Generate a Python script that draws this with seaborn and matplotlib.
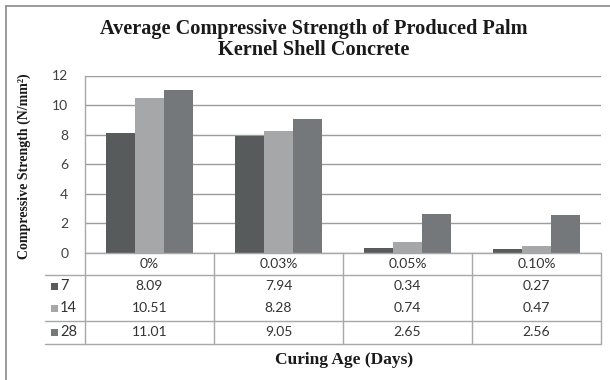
import matplotlib
matplotlib.use("Agg")
import matplotlib.pyplot as plt
import matplotlib.transforms as mtransforms
from matplotlib.lines import Line2D
from matplotlib.patches import Rectangle
import pandas as pd
import seaborn as sns

# Palm kernel shell content (x categories) and curing ages (series)
contents = ["0%", "0.03%", "0.05%", "0.10%"]
ages = ["7", "14", "28"]
strength_7 = [8.09, 7.94, 0.34, 0.27]
strength_14 = [10.51, 8.28, 0.74, 0.47]
strength_28 = [11.01, 9.05, 2.65, 2.56]
y_ticks = [0, 2, 4, 6, 8, 10, 12]

title = "Average Compressive Strength of Produced Palm\nKernel Shell Concrete"
y_label = "Compressive Strength (N/mm²)"
x_label = "Curing Age (Days)"

series = {"7": strength_7, "14": strength_14, "28": strength_28}
colors = {"7": "#585b5c", "14": "#a5a7a8", "28": "#75787a"}

df = pd.DataFrame(
    [(c, a, series[a][i]) for a in ages for i, c in enumerate(contents)],
    columns=["Content", "Age", "Strength"],
)

sns.set_style("white")
plt.rcParams["font.family"] = ["Lato", "DejaVu Sans"]
SERIF = ["Liberation Serif", "DejaVu Serif"]

W, H = 610, 380
fig = plt.figure(figsize=(W / 100, H / 100), dpi=100)


def fx(px):
    return px / W


def fy(py):
    return 1 - py / H


# plot area in pixel terms
L, R, T, B = 85, 601, 75.5, 253
ax = fig.add_axes([fx(L), fy(B), fx(R) - fx(L), fy(T) - fy(B)])

sns.barplot(
    data=df, x="Content", y="Strength", hue="Age", order=contents,
    hue_order=ages, palette=colors, width=0.667, saturation=1,
    edgecolor="none", linewidth=0, legend=False, ax=ax, zorder=3,
)

ax.set_ylim(0, 12)
ax.set_xlim(-0.5, len(contents) - 0.5)
ax.set_yticks(y_ticks)
ax.set_yticklabels([str(t) for t in y_ticks], fontsize=10, color="#404040")
ax.tick_params(axis="y", length=0, pad=12)
ax.set_xticks([])
ax.set_xlabel("")
ax.set_ylabel("")
ax.yaxis.grid(True, color="#9c9c9c", linewidth=1.0, zorder=0)
for s in ["top", "right", "bottom"]:
    ax.spines[s].set_visible(False)
ax.spines["left"].set_color("#a8a8a8")
ax.spines["left"].set_linewidth(1.0)

# title and axis titles
fig.text(fx(314), fy(39.5), title, ha="center", va="center", family=SERIF,
         fontweight="bold", fontsize=14.6, color="#1a1a1a", linespacing=1.05)
fig.text(fx(24), fy(166), y_label, ha="center", va="center", rotation=90,
         family=SERIF, fontweight="bold", fontsize=10, color="#1a1a1a")
fig.text(fx(344), fy(360), x_label, ha="center", va="center", family=SERIF,
         fontweight="bold", fontsize=12.5, color="#1a1a1a")

# data table under the bars: x follows the bar axis, y in figure pixels
blend = mtransforms.blended_transform_factory(ax.transData, fig.transFigure)
line_kw = dict(color="#a8a8a8", linewidth=1.0)

x_lo, x_hi = -0.5, len(contents) - 0.5
key_left = 45
table_top, header_bot, row14_bot, table_bot = 253, 275, 321, 343.5

fig.add_artist(Line2D([fx(L), fx(R)], [fy(table_top)] * 2,
                      transform=fig.transFigure, **line_kw))
for yy in (header_bot, row14_bot, table_bot):
    fig.add_artist(Line2D([fx(key_left), fx(R)], [fy(yy)] * 2,
                          transform=fig.transFigure, **line_kw))
fig.add_artist(Line2D([fx(L), fx(L)], [fy(table_top), fy(table_bot)],
                      transform=fig.transFigure, **line_kw))
for i in range(1, len(contents) + 1):
    xb = x_lo + i
    fig.add_artist(Line2D([xb, xb], [fy(table_top), fy(table_bot)],
                          transform=blend, **line_kw))

row_y = {"hdr": 264, "7": 286.5, "14": 308.5, "28": 332.5}
for i, c in enumerate(contents):
    fig.text(i, fy(row_y["hdr"]), c, transform=blend, ha="center",
             va="center", fontsize=10, color="#333333")
    for a in ages:
        fig.text(i, fy(row_y[a]), f"{series[a][i]:.2f}", transform=blend,
                 ha="center", va="center", fontsize=10, color="#333333")

for a in ages:
    yc = row_y[a]
    fig.add_artist(Rectangle((fx(51), fy(yc + 3.5)), fx(7), fy(0) - fy(7),
                             transform=fig.transFigure, facecolor=colors[a],
                             edgecolor="none"))
    fig.text(fx(60), fy(yc), a, ha="left", va="center", fontsize=10.5,
             color="#333333")

# outer chart frame
frame_kw = dict(color="#8a8a8a", linewidth=1.2, transform=fig.transFigure)
fig.add_artist(Line2D([fx(6), fx(6)], [fy(5.5), 0], **frame_kw))
fig.add_artist(Line2D([fx(6), 1], [fy(5.5), fy(5.5)], **frame_kw))

fig.savefig("out.png", dpi=100)
